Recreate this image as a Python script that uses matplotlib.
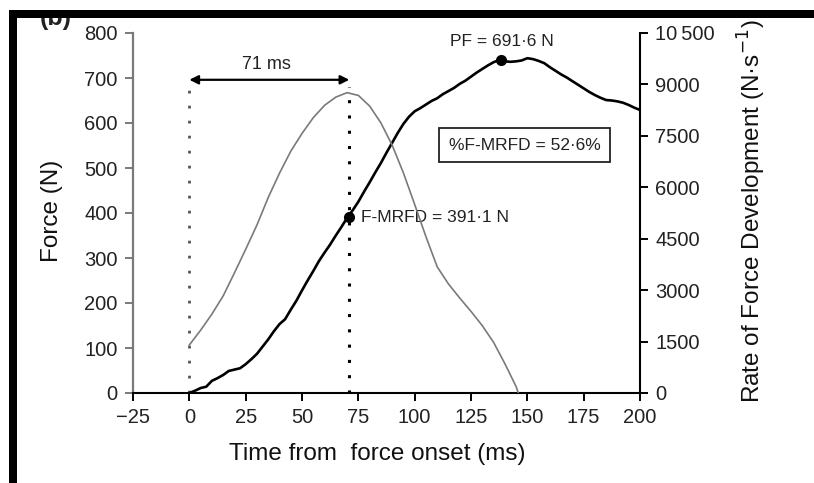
import matplotlib
matplotlib.use("Agg")
import matplotlib.pyplot as plt
from matplotlib.patches import Rectangle
import numpy as np

plt.rcParams['font.family'] = ['Liberation Sans', 'DejaVu Sans']

# ---- data ----
force_time = [0, 2.5, 5, 7.5, 10, 12.5, 15, 17.5, 20, 22.5, 25, 27.5, 30, 32.5, 35, 37.5,
              40, 42.5, 45, 47.5, 50, 52.5, 55, 57.5, 60, 62.5, 65, 67.5, 70, 72.5, 75,
              77.5, 80, 82.5, 85, 87.5, 90, 92.5, 95, 97.5, 100, 102.5, 105, 107.5, 110,
              112.5, 115, 117.5, 120, 122.5, 125, 127.5, 130, 132.5, 135, 137.5, 140,
              142.5, 145, 147.5, 150, 152.5, 155, 157.5, 160, 162.5, 165, 167.5, 170,
              172.5, 175, 177.5, 180, 182.5, 185, 187.5, 190, 192.5, 195, 197.5, 200]
force_N = [0, 5, 11, 14, 27, 33, 40, 49, 52, 55, 64, 75, 87, 103, 119, 137,
           153, 164, 185, 205, 228, 250, 271, 293, 312, 330, 350, 369, 389, 406, 425,
           447, 468, 490, 511, 534, 556, 578, 598, 614, 626, 633, 641, 649, 655,
           664, 671, 678, 687, 694, 703, 712, 720, 728, 735, 740, 737,
           736, 737, 739, 744, 742, 738, 733, 724, 716, 708, 701, 693,
           685, 677, 669, 662, 656, 651, 650, 648, 645, 640, 634, 629]

rfd_time = [0, 5, 10, 15, 20, 25, 30, 35, 40, 45, 50, 55, 60, 65, 70, 75, 80, 85, 90,
            95, 100, 105, 110, 115, 120, 125, 130, 135, 140, 145, 146]
rfd_Nps = [1400, 1830, 2300, 2830, 3500, 4190, 4900, 5700, 6410, 7050, 7570, 8030, 8390,
           8630, 8760, 8680, 8370, 7880, 7230, 6420, 5500, 4560, 3680, 3180, 2770, 2380,
           1965, 1480, 860, 190, 0]

mrfd_time = 71
mrfd_force = 391.1
pf_time = 138.5
pf_force = 740

x_ticks = [-25, 0, 25, 50, 75, 100, 125, 150, 175, 200]
left_ticks = [0, 100, 200, 300, 400, 500, 600, 700, 800]
right_ticks = [0, 1500, 3000, 4500, 6000, 7500, 9000, 10500]
right_tick_labels = ['0', '1500', '3000', '4500', '6000', '7500', '9000', '10\u2009500']

# ---- figure ----
fig = plt.figure(figsize=(8.14, 4.83), dpi=100)
ax = fig.add_axes([133 / 814, 1 - 393 / 483, 507 / 814, 360 / 483])
ax2 = ax.twinx()

ax.set_xlim(-25, 200)
ax.set_ylim(0, 800)
ax2.set_ylim(0, 10500)

gray = '#7a7a7a'
ax2.plot(rfd_time, rfd_Nps, color=gray, lw=1.2, zorder=2)
ax.plot(force_time, force_N, color='black', lw=1.9, zorder=3)

# dotted vertical guides
ax.plot([0, 0], [0, 680], color='#555555', lw=2.0, linestyle=(0, (1, 4.4)), zorder=1)
ax.plot([mrfd_time, mrfd_time], [0, 680], color='black', lw=2.2,
        linestyle=(0, (1, 4.0)), zorder=1)

# markers
ax.plot([mrfd_time], [mrfd_force], 'o', color='black', ms=7, zorder=5)
ax.plot([pf_time], [pf_force], 'o', color='black', ms=7, zorder=5)

# annotations
ax.annotate('', xy=(mrfd_time, 696), xytext=(0, 696),
            arrowprops=dict(arrowstyle='<|-|>', color='black', lw=1.6,
                            mutation_scale=13, shrinkA=0, shrinkB=0))
ax.text(34.4, 731, '71 ms', ha='center', va='center', fontsize=13, color='#222222')
ax.text(76.4, 391, 'F-MRFD = 391\u00b71 N', ha='left', va='center', fontsize=12.5,
        color='#222222')
ax.text(138.9, 782, 'PF = 691\u00b76 N', ha='center', va='center', fontsize=12.5,
        color='#222222')
ax.text(148.9, 551, '%F-MRFD = 52\u00b76%', ha='center', va='center', fontsize=12.5,
        color='#222222',
        bbox=dict(boxstyle='square,pad=0.55', facecolor='white', edgecolor='#222222',
                  lw=1.3))

# spines / ticks
for a in (ax, ax2):
    a.spines['top'].set_visible(False)
ax.spines['right'].set_visible(False)
ax2.spines['left'].set_visible(False)
ax2.spines['bottom'].set_visible(False)
ax.spines['left'].set_color(gray)
ax.spines['left'].set_linewidth(1.6)
ax.spines['bottom'].set_color('black')
ax.spines['bottom'].set_linewidth(1.5)
ax2.spines['right'].set_color('black')
ax2.spines['right'].set_linewidth(1.5)

ax.set_xticks(x_ticks)
ax.set_yticks(left_ticks)
ax2.set_yticks(right_ticks)
ax2.set_yticklabels(right_tick_labels)

ax.tick_params(axis='x', direction='out', length=6, width=1.4, color='black',
               labelsize=14.5, labelcolor='#222222', pad=4.5)
ax.tick_params(axis='y', direction='out', length=6, width=1.4, color=gray,
               labelsize=14.5, labelcolor='#222222', pad=5)
ax2.tick_params(axis='y', direction='out', length=6, width=1.4, color='black',
                labelsize=14.5, labelcolor='#222222', pad=5)

ax.set_xlabel('Time from  force onset (ms)', fontsize=17.5, color='#111111', va='center')
ax.xaxis.set_label_coords(0.482, -0.169)
ax.set_ylabel('Force (N)', fontsize=17.5, color='#111111', va='center')
ax.yaxis.set_label_coords(-0.160, 0.505)
ax2.set_ylabel('Rate of Force Development (N\u00b7s$^{\u22121}$)', fontsize=17.5,
               color='#111111', va='center', rotation=90)
ax2.yaxis.set_label_coords(1.221, 0.506)

# panel letter partly hidden by the frame
fig.text(40 / 814, 1 - 25 / 483, '(b)', fontsize=18, fontweight='bold', ha='left',
         va='baseline', color='#222222', zorder=1)

# black frame bars and top white margin (covering the panel letter)
fig.add_artist(Rectangle((0, 1 - 10 / 483), 1, 10 / 483, transform=fig.transFigure,
                         facecolor='white', edgecolor='none', zorder=20))
fig.add_artist(Rectangle((9 / 814, 1 - 18 / 483), 1 - 9 / 814, 8 / 483,
                         transform=fig.transFigure, facecolor='black',
                         edgecolor='none', zorder=21))
fig.add_artist(Rectangle((9 / 814, 0), 8 / 814, 1 - 10 / 483, transform=fig.transFigure,
                         facecolor='black', edgecolor='none', zorder=21))

fig.savefig('out.png', dpi=100)
